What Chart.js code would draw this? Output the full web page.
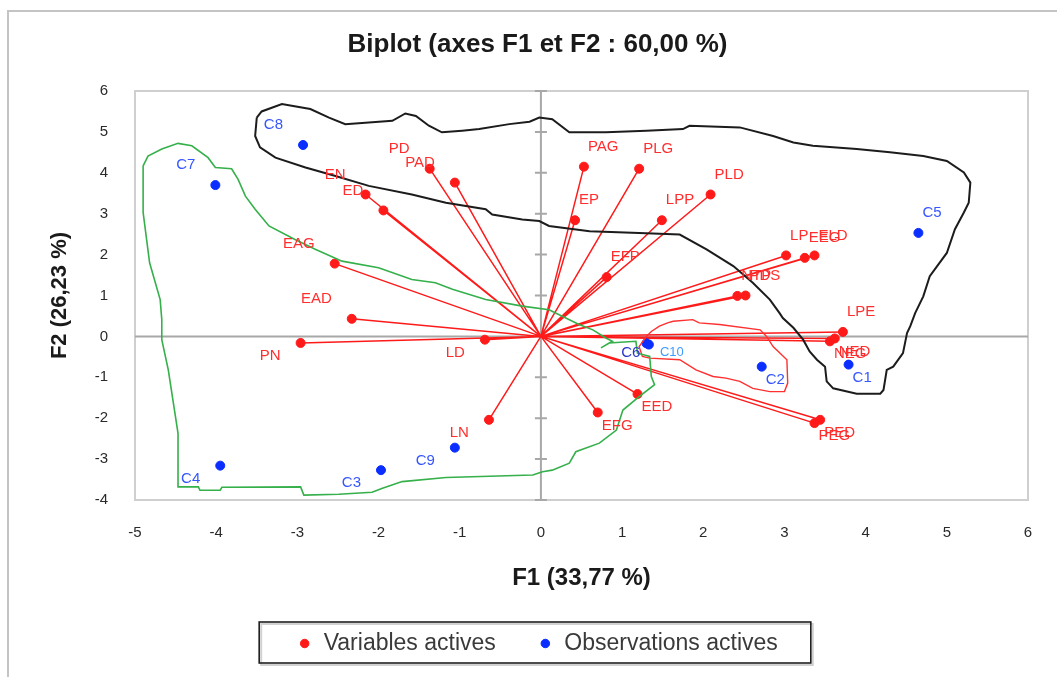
<!DOCTYPE html>
<html>
<head>
<meta charset="utf-8">
<title>Biplot F1 / F2</title>
<script src="https://cdn.jsdelivr.net/npm/chart.js@4.4.1/dist/chart.umd.min.js"></script>
<style>
  html, body { margin: 0; padding: 0; background: #ffffff; }
  #wrap { width: 1057px; height: 677px; }
</style>
</head>
<body>
<div id="wrap"><canvas id="biplot" width="1057" height="677"></canvas></div>
<script>
// ---- Active variables (loadings on F1 / F2) ----
const variableNames = ['PD','PAD','EN','ED','EAG','EAD','PN','LD','LN','PAG','PLG','PLD','EP','LPP','EFP','LP','EEG','ELD','NTP','PDS','LPE','NED','NEG','PED','PEG','EED','EFG'];
const variableF1 = [-1.37,-1.06,-2.16,-1.94,-2.54,-2.33,-2.96,-0.69,-0.64,0.53,1.21,2.09,0.42,1.49,0.81,3.02,3.25,3.37,2.42,2.52,3.72,3.62,3.56,3.44,3.37,1.19,0.70];
const variableF2 = [4.10,3.76,3.47,3.08,1.78,0.43,-0.16,-0.08,-2.04,4.15,4.10,3.47,2.84,2.84,1.45,1.98,1.92,1.98,0.99,1.00,0.11,-0.05,-0.12,-2.04,-2.12,-1.41,-1.86];

// ---- Active observations (scores on F1 / F2) ----
const observationNames = ['C1','C2','C3','C4','C5','C6','C7','C8','C9','C10'];
const observationF1 = [3.79,2.72,-1.97,-3.95,4.65,1.30,-4.01,-2.93,-1.06,1.33];
const observationF2 = [-0.69,-0.74,-3.27,-3.16,2.53,-0.17,3.70,4.68,-2.72,-0.20];

// ---- Axis ticks ----
const xTickValues = [-5,-4,-3,-2,-1,0,1,2,3,4,5,6];
const yTickValues = [-4,-3,-2,-1,0,1,2,3,4,5,6];

// ---- Group outlines (F1 / F2 coordinates) ----
const blackZoneF1 = [-3.50,-3.44,-3.19,-3.07,-2.84,-2.61,-2.41,-2.12,-1.83,-1.67,-1.54,-1.38,-1.22,-0.97,-0.76,-0.39,-0.14,-0.02,0.14,0.35,0.80,1.30,1.75,1.83,2.45,2.86,3.11,3.35,3.89,4.30,4.71,5.00,5.21,5.29,5.27,5.21,5.10,5.00,4.79,4.71,4.61,4.55,4.51,4.46,4.34,4.26,4.22,4.18,3.89,3.60,3.52,3.50,3.40,3.31,3.23,3.11,2.98,2.94,2.82,2.61,2.37,2.04,1.71,1.21,0.60,0.10,-0.02,-0.23,-0.60,-0.68,-1.17,-1.59,-2.12,-2.53,-2.90,-3.27,-3.46,-3.52,-3.50];
const blackZoneF2 = [5.35,5.50,5.68,5.64,5.56,5.35,5.19,5.23,5.27,5.45,5.39,5.15,4.99,5.03,5.07,5.19,5.25,5.35,5.31,4.99,4.99,5.03,5.07,5.15,5.11,4.90,4.74,4.66,4.58,4.50,4.41,4.29,4.01,3.76,3.27,3.03,2.62,2.04,1.47,0.98,0.57,0.25,0.08,-0.41,-0.74,-0.82,-1.31,-1.40,-1.40,-1.27,-1.10,-0.74,-0.57,-0.37,-0.08,0.21,0.45,0.57,0.90,1.31,1.72,2.13,2.49,2.53,2.57,2.70,2.82,2.86,2.98,3.11,3.27,3.47,3.68,3.92,4.13,4.37,4.62,4.90,5.35];
const greenZoneF1 = [-4.90,-4.84,-4.67,-4.47,-4.30,-4.10,-4.01,-3.81,-3.73,-3.64,-3.52,-3.35,-3.03,-2.78,-2.45,-2.00,-1.59,-1.30,-1.09,-0.68,-0.23,0.10,0.47,0.64,0.80,0.88,0.74,0.84,1.17,1.19,1.34,1.36,1.40,1.21,1.01,0.93,0.72,0.43,0.35,0.14,0.02,-0.10,-1.17,-1.71,-1.96,-2.08,-2.49,-2.92,-2.96,-3.93,-3.95,-4.20,-4.22,-4.47,-4.47,-4.59,-4.67,-4.67,-4.69,-4.82,-4.90,-4.90];
const greenZoneF2 = [4.17,4.41,4.58,4.72,4.66,4.37,4.13,4.10,3.84,3.43,3.11,2.70,2.37,2.13,1.84,1.68,1.39,1.31,1.15,0.90,0.74,0.65,0.29,0.16,-0.04,-0.12,-0.28,-0.16,-0.12,-0.41,-0.49,-0.98,-1.18,-1.47,-1.80,-2.29,-2.61,-2.82,-3.10,-3.27,-3.31,-3.39,-3.45,-3.55,-3.72,-3.81,-3.86,-3.88,-3.68,-3.69,-3.76,-3.76,-3.68,-3.68,-2.37,-0.82,-0.08,0.41,0.90,1.80,3.03,4.17];
const redZoneF1 = [1.30,1.36,1.46,1.56,1.63,1.87,1.95,2.20,2.70,2.78,2.86,3.03,3.04,3.00,2.82,2.61,2.45,2.28,2.12,1.91,1.71,1.34,1.25,1.21,1.30];
const redZoneF2 = [0.00,0.12,0.25,0.33,0.37,0.41,0.33,0.29,0.16,0.00,-0.25,-0.57,-1.14,-1.35,-1.35,-1.27,-1.10,-1.02,-0.98,-0.82,-0.57,-0.53,-0.49,-0.25,0.00];

// ---- Styling ----
const FONT = '"Liberation Sans", Arial, Helvetica, sans-serif';
const RED = '#ff1a1a';
const BLUE = '#0a2eff';
const RED_TEXT = '#ff2e2e';
const BLUE_TEXT = '#3656ff';
// label nudges for points that sit on top of each other
const labelAdjust = {
  C6:  { dx: -6, dy: 10, align: 'right', color: '#2b35c8' },
  C10: { dx: 11, dy: 8, align: 'left', color: '#3f9cff', size: 13 }
};

const toPoints = (xs, ys) => xs.map((x, i) => ({ x: x, y: ys[i] }));

// one segment origin -> variable, separated by gaps
const vectorSegments = [];
variableF1.forEach((x, i) => {
  vectorSegments.push({ x: 0, y: 0 }, { x: x, y: variableF2[i] }, { x: null, y: null });
});

Chart.defaults.font.family = FONT;

const backgroundPlugin = {
  id: 'pageFrame',
  beforeDraw(chart) {
    const c = chart.ctx;
    c.save();
    c.fillStyle = '#ffffff';
    c.fillRect(0, 0, chart.width, chart.height);
    c.strokeStyle = '#c4c4c4';
    c.lineWidth = 2;
    c.strokeRect(8, 11, chart.width + 20, chart.height + 20);
    c.restore();
  }
};

const plotFramePlugin = {
  id: 'plotFrame',
  beforeDatasetsDraw(chart) {
    const { ctx: c, chartArea: a, scales: { x, y } } = chart;
    c.save();
    c.strokeStyle = '#cfcfcf';
    c.lineWidth = 2;
    c.strokeRect(a.left, a.top, a.right - a.left, a.bottom - a.top);
    const x0 = x.getPixelForValue(0);
    const y0 = y.getPixelForValue(0);
    c.strokeStyle = '#a8a8a8';
    c.beginPath();
    c.moveTo(a.left, y0); c.lineTo(a.right, y0);
    c.moveTo(x0, a.top); c.lineTo(x0, a.bottom);
    // tick marks along the vertical zero axis
    yTickValues.forEach(v => {
      const py = y.getPixelForValue(v);
      c.moveTo(x0 - 6, py); c.lineTo(x0 + 6, py);
    });
    c.stroke();
    c.restore();
  }
};

const pointLabelPlugin = {
  id: 'pointLabels',
  afterDatasetsDraw(chart) {
    const c = chart.ctx;
    const drawSet = (dsIndex, names, color) => {
      const meta = chart.getDatasetMeta(dsIndex);
      const raw = chart.data.datasets[dsIndex].data;
      meta.data.forEach((el, i) => {
        const p = raw[i];
        const adj = labelAdjust[names[i]] || {};
        const right = p.x >= 0;
        const up = p.y >= 0;
        const dx = adj.dx !== undefined ? adj.dx : (right ? 4 : -20);
        const dy = adj.dy !== undefined ? adj.dy : (up ? -20 : 13);
        c.save();
        c.font = (adj.size || 15) + 'px ' + FONT;
        c.fillStyle = adj.color || color;
        c.textAlign = adj.align || (right ? 'left' : 'right');
        c.textBaseline = 'middle';
        c.fillText(names[i], el.x + dx, el.y + dy);
        c.restore();
      });
    };
    drawSet(1, variableNames, RED_TEXT);
    drawSet(2, observationNames, BLUE_TEXT);
  }
};

const legendBoxPlugin = {
  id: 'legendBox',
  afterDraw(chart) {
    const lg = chart.legend;
    if (!lg || !lg.legendHitBoxes || !lg.legendHitBoxes.length) return;
    const boxes = lg.legendHitBoxes;
    const first = boxes[0];
    const last = boxes[boxes.length - 1];
    const left = first.left - 38;
    const right = last.left + last.width + 33;
    const top = first.top - 10;
    const bottom = first.top + first.height + 8;
    const c = chart.ctx;
    c.save();
    c.strokeStyle = 'rgba(0,0,0,0.18)';
    c.lineWidth = 2;
    c.strokeRect(left + 2, top + 2, right - left, bottom - top);
    c.strokeStyle = '#1e1e1e';
    c.lineWidth = 1.6;
    c.strokeRect(left, top, right - left, bottom - top);
    c.restore();
  }
};

const outline = (label, xs, ys, color, width) => ({
  label: label,
  data: toPoints(xs, ys),
  showLine: true,
  borderColor: color,
  borderWidth: width,
  pointRadius: 0,
  fill: false,
  tension: 0,
  order: 0
});

new Chart(document.getElementById('biplot'), {
  type: 'scatter',
  data: {
    datasets: [
      {
        label: 'vecteurs',
        data: vectorSegments,
        showLine: true,
        spanGaps: false,
        borderColor: RED,
        borderWidth: 1.5,
        pointRadius: 0,
        order: 2
      },
      {
        label: 'Variables actives',
        data: toPoints(variableF1, variableF2),
        backgroundColor: RED,
        borderColor: RED,
        pointRadius: 4.5,
        pointStyle: 'circle',
        order: 1
      },
      {
        label: 'Observations actives',
        data: toPoints(observationF1, observationF2),
        backgroundColor: BLUE,
        borderColor: BLUE,
        pointRadius: 4.5,
        pointStyle: 'circle',
        order: 1
      },
      outline('groupe noir', blackZoneF1, blackZoneF2, '#1c1c1c', 2),
      outline('groupe vert', greenZoneF1, greenZoneF2, '#35b04a', 1.6),
      outline('groupe rouge', redZoneF1, redZoneF2, '#ff3030', 1.4)
    ]
  },
  options: {
    responsive: false,
    animation: false,
    devicePixelRatio: 1,
    events: [],
    layout: { padding: { left: 47, right: 29, top: 11, bottom: 12 } },
    plugins: {
      title: {
        display: true,
        text: 'Biplot (axes F1 et F2 : 60,00 %)',
        color: '#1a1a1a',
        font: { family: FONT, size: 26, weight: 'bold', lineHeight: 1.2 },
        padding: { top: 18.4, bottom: 30.4 }
      },
      legend: {
        display: true,
        position: 'bottom',
        labels: {
          filter: item => item.text === 'Variables actives' || item.text === 'Observations actives',
          usePointStyle: true,
          pointStyle: 'circle',
          boxWidth: 15,
          boxHeight: 6,
          padding: 42,
          color: '#3a3a3a',
          font: { family: FONT, size: 23 }
        }
      },
      tooltip: { enabled: false }
    },
    scales: {
      x: {
        type: 'linear',
        min: -5,
        max: 6,
        afterBuildTicks: s => { s.ticks = xTickValues.map(v => ({ value: v })); },
        afterFit: s => { s.height = 90; },
        grid: { display: false, drawTicks: false },
        border: { display: false },
        ticks: { padding: 24, maxRotation: 0, color: '#2a2a2a', font: { family: FONT, size: 15 } },
        title: {
          display: true,
          text: 'F1 (33,77 %)',
          color: '#1a1a1a',
          font: { family: FONT, size: 24, weight: 'bold', lineHeight: 1 },
          padding: { top: 0, bottom: 0 }
        }
      },
      y: {
        type: 'linear',
        min: -4,
        max: 6,
        afterBuildTicks: s => { s.ticks = yTickValues.map(v => ({ value: v })); },
        afterFit: s => { s.width = 88; },
        grid: { display: false, drawTicks: false },
        border: { display: false },
        ticks: { padding: 27, color: '#2a2a2a', font: { family: FONT, size: 15 } },
        title: {
          display: true,
          text: 'F2 (26,23 %)',
          color: '#1a1a1a',
          font: { family: FONT, size: 22, weight: 'bold', lineHeight: 1 },
          padding: { top: 2, bottom: 0 }
        }
      }
    }
  },
  plugins: [backgroundPlugin, plotFramePlugin, pointLabelPlugin, legendBoxPlugin]
});
</script>
</body>
</html>
